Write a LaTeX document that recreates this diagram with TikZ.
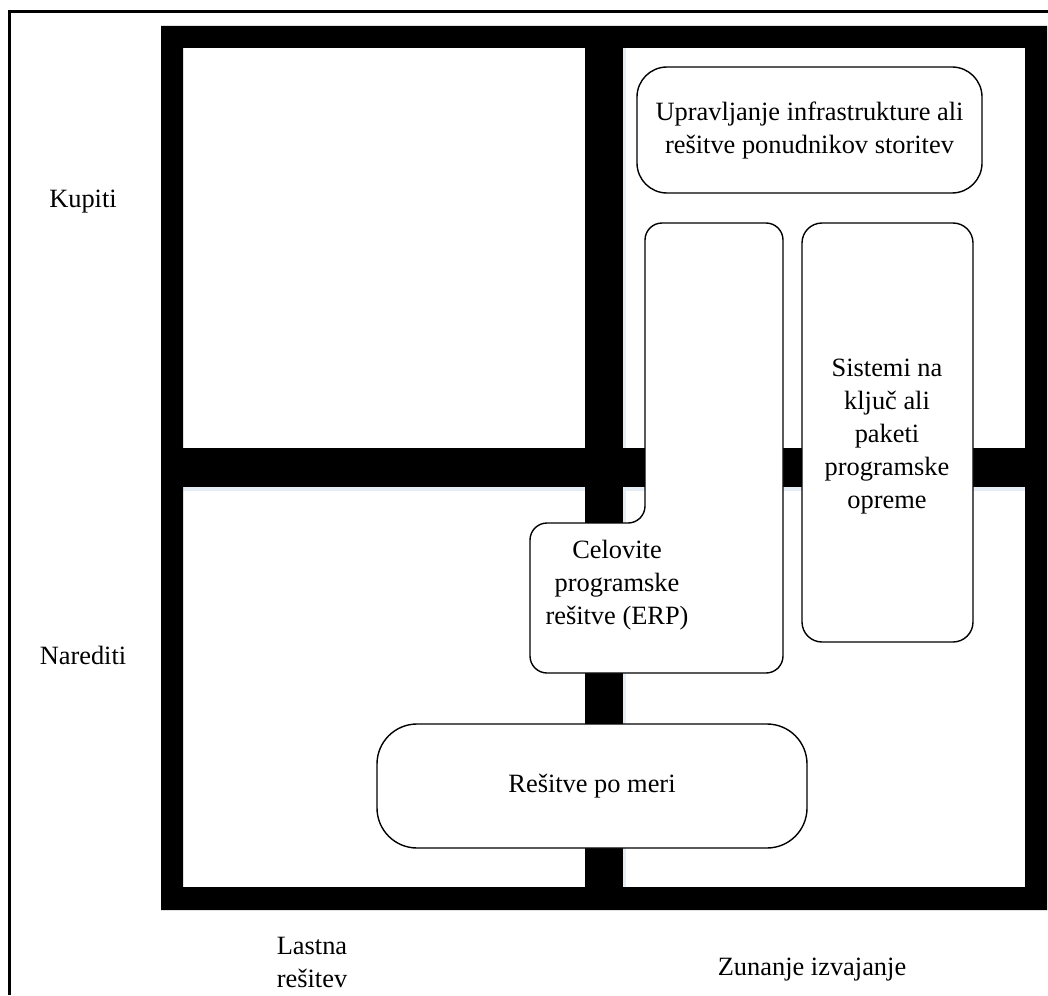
\documentclass[tikz,border=0pt]{standalone}
\usepackage{fontspec}
\setmainfont{Liberation Serif}
\begin{document}
\begin{tikzpicture}[x=1pt,y=-1pt,
  bar/.style={fill=black},
  barshadow/.style={fill={rgb,255:red,228;green,236;blue,245}},
  box/.style={draw=black,line width=1.4pt,fill=white},
  lbl/.style={font=\fontsize{26.4}{33}\selectfont,align=center,inner sep=0pt}]
\useasboundingbox (0,0) rectangle (1048,995);
\fill[white] (0,0) rectangle (1048,995);
% outer frame
\draw[line width=3pt] (9.5,995) -- (9.5,11.5) -- (1048,11.5);
% soft shadows under the cross bars
\fill[barshadow] (183,487) rectangle (1025,491);
\fill[barshadow] (623,48) rectangle (626,887);
% thick square border
\fill[bar,even odd rule] (161,26) rectangle (1047,910) (183,48) rectangle (1025,887);
% cross bars
\fill[bar] (172,448) rectangle (1036,487);
\fill[bar] (585,26) rectangle (623,898);
% boxes
\draw[box,rounded corners=30pt] (637,67) rectangle (982,193);
\node[lbl] (upr) at (809.5,131) {Upravljanje infrastrukture ali\\rešitve ponudnikov storitev};
\draw[box,rounded corners=17pt] (645,223) -- (783,223) -- (783,673) -- (530,673) -- (530,523) -- (645,523) -- cycle;
\node[lbl] (erp) at (617,585) {Celovite\\programske\\rešitve (ERP)};
\draw[box,rounded corners=20pt] (802,223) rectangle (973,642);
\node[lbl] (sis) at (887,437) {Sistemi na\\ključ ali\\paketi\\programske\\opreme};
\draw[box,rounded corners=40pt] (377,724) rectangle (807,848);
\node[lbl] (mer) at (592,786) {Rešitve po meri};
% axis labels
\node[lbl] (kup) at (83,202) {Kupiti};
\node[lbl] (nar) at (83,655) {Narediti};
\node[lbl] (las) at (312,962) {Lastna\\rešitev};
\node[lbl] (zun) at (812,970) {Zunanje izvajanje};
\end{tikzpicture}
\end{document}
